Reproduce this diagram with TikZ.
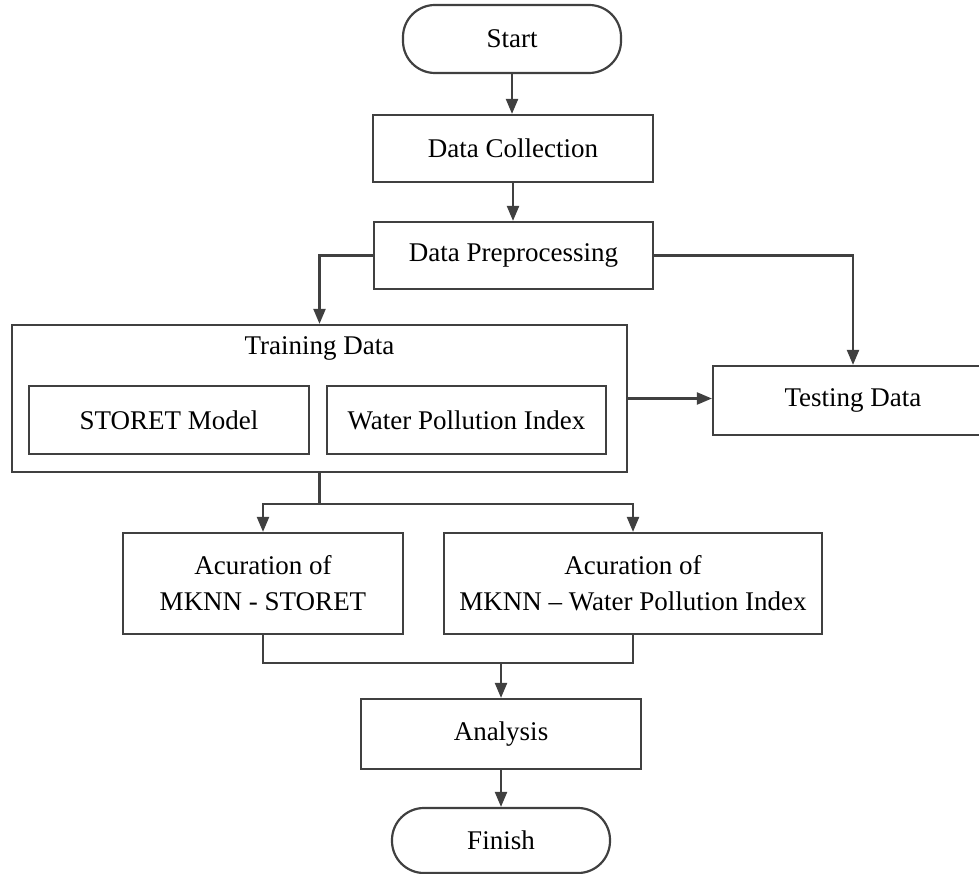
\documentclass[tikz,border=0pt]{standalone}
\usepackage{fontspec}
\setmainfont{Liberation Serif}
\usetikzlibrary{arrows.meta}
\definecolor{linec}{HTML}{404040}
\begin{document}
\begin{tikzpicture}[x=1pt,y=-1pt,
  every node/.style={font=\fontsize{27}{36}\selectfont, text=black},
  box/.style={draw=linec, line width=2.2pt, inner sep=0pt, align=center},
  term/.style={box, rounded corners=32pt},
  conn/.style={draw=linec, line width=2.2pt},
  arr/.style={conn, -{Triangle[length=15pt,width=12pt]}}]
\useasboundingbox (0,0) rectangle (979,874);
\node[term, minimum width=218pt, minimum height=68pt] (start) at (512,39) {Start};
\node[box, minimum width=280pt, minimum height=67pt] (dc) at (513,148.5) {Data Collection};
\node[box, minimum width=279pt, minimum height=67pt] (dp) at (513.5,255.5) {Data Preprocessing};
\node[box, minimum width=615pt, minimum height=147pt] (train) at (319.5,398.5) {};
\node (trainlbl) at (319.5,348) {Training Data};
\node[box, minimum width=280pt, minimum height=68pt] (storet) at (169,420) {STORET Model};
\node[box, minimum width=279pt, minimum height=68pt] (wpi) at (466.5,420) {Water Pollution Index};
\node[box, minimum width=280pt, minimum height=69pt] (test) at (853,400.5) {Testing Data};
\node[box, minimum width=280pt, minimum height=101pt] (acl) at (263,583.5) {Acuration of\\MKNN - STORET};
\node[box, minimum width=378pt, minimum height=101pt] (acr) at (633,583.5) {Acuration of\\MKNN – Water Pollution Index};
\node[box, minimum width=280pt, minimum height=70pt] (an) at (501,734) {Analysis};
\node[term, minimum width=218pt, minimum height=65pt] (fin) at (501,840.5) {Finish};
\draw[arr] (start.south) -- (start.south |- dc.north);
\draw[arr] (dc.south) -- (dc.south |- dp.north);
\draw[arr] (dp.west) -| (train.north);
\draw[arr] (dp.east) -| (test.north);
\draw[arr] (train.east) -- (train.east -| test.west);
\path (train.south) ++(0,31) coordinate (split);
\draw[conn] (train.south) -- (split);
\draw[arr] (split) -| (acl.north);
\draw[arr] (split) -| (acr.north);
\path (an.north) ++(0,-35) coordinate (join);
\draw[conn] (acl.south) |- (join);
\draw[conn] (acr.south) |- (join);
\draw[arr] (join) -- (an.north);
\draw[arr] (an.south) -- (fin.north);
\end{tikzpicture}
\end{document}
